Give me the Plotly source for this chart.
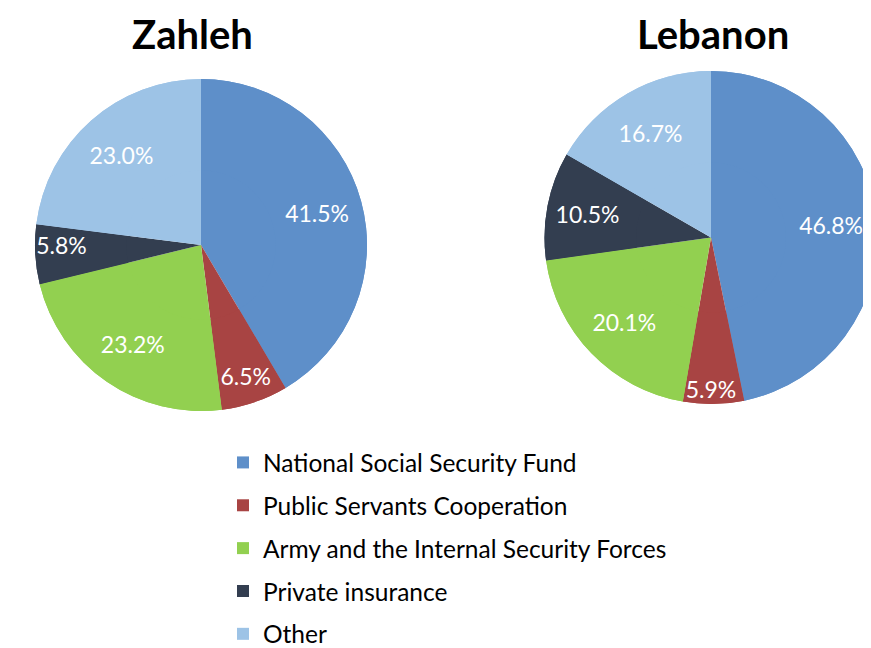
import plotly.graph_objects as go

categories = ["National Social Security Fund", "Public Servants Cooperation",
              "Army and the Internal Security Forces", "Private insurance", "Other"]
zahleh_values = [41.5, 6.5, 23.2, 5.8, 23.0]
lebanon_values = [46.8, 5.9, 20.1, 10.5, 16.7]
colors = ["#5E8FC9", "#A84443", "#92D050", "#333E50", "#9DC3E6"]

W, H = 871, 648
OFF = 8  # page body margin
FONT = "Lato, Open Sans, sans-serif"

fig = go.Figure()


def px_x(a):
    return (a - OFF) / W


def px_y(a):
    return 1 - (a - OFF) / H


def add_pie(values, dom):
    # base full pie (no text)
    fig.add_trace(go.Pie(
        values=values, labels=categories, sort=False, direction="clockwise", rotation=0,
        marker=dict(colors=colors, line=dict(width=0)),
        textinfo="none", domain=dom, showlegend=False, hoverinfo="skip",
    ))
    # ring on top carries the labels so they sit toward the outer part of each slice
    fig.add_trace(go.Pie(
        values=values, labels=categories, sort=False, direction="clockwise", rotation=0,
        hole=0.45,
        marker=dict(colors=colors, line=dict(width=0)),
        texttemplate="%{value:.1f}%", textposition="inside", insidetextorientation="horizontal",
        textfont=dict(color="white", size=23, family=FONT),
        domain=dom, showlegend=False, hoverinfo="skip",
    ))


add_pie(zahleh_values, dict(x=[px_x(35), px_x(367)], y=[px_y(411), px_y(79)]))
add_pie(lebanon_values, dict(x=[px_x(544), min(1.0, px_x(878))], y=[px_y(404), px_y(71)]))

for i, (cat, col) in enumerate(zip(categories, colors)):
    fig.add_trace(go.Scatter(
        x=[None], y=[None], mode="markers", name=cat,
        marker=dict(symbol="square", size=12, color=col),
        legendgroup=f"g{i}", showlegend=True,
    ))

for title, cx in [("Zahleh", 192), ("Lebanon", 713)]:
    fig.add_annotation(text=f"<b>{title}</b>", x=px_x(cx), y=1.0, xref="paper", yref="paper",
                       showarrow=False, font=dict(size=40, color="black", family=FONT),
                       xanchor="center", yanchor="top")

fig.update_layout(
    width=W, height=H,
    margin=dict(l=0, r=0, t=0, b=0, autoexpand=False),
    paper_bgcolor="white", plot_bgcolor="white",
    xaxis=dict(visible=False), yaxis=dict(visible=False),
    uniformtext=dict(minsize=23, mode="show"),
    legend=dict(x=px_x(223), y=px_y(440), xanchor="left", yanchor="top",
                font=dict(size=24.5, color="black", family=FONT),
                tracegroupgap=8, traceorder="grouped", bgcolor="rgba(0,0,0,0)"),
    font=dict(family=FONT),
)

fig.write_html("out.html")
